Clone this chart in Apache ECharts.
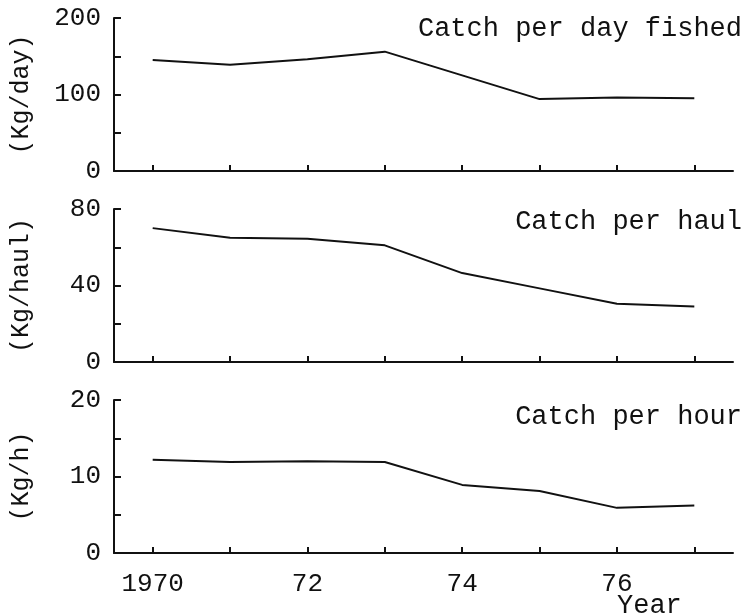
<!DOCTYPE html>
<html>
<head>
<meta charset="utf-8">
<script src="https://cdn.jsdelivr.net/npm/echarts@6/dist/echarts.min.js"></script>
<style>
  html, body { margin: 0; padding: 0; background: #fff; }
  #chart { width: 749px; height: 613px; }
</style>
</head>
<body>
<div id="chart"></div>
<script>
// years on the x axis
const years = ['1970', '1971', '1972', '1973', '1974', '1975', '1976', '1977']
const yearLabels = { '1970': '1970', '1972': '72', '1974': '74', '1976': '76' }

// catch per day fished (Kg/day)
const perDay = [145, 139, 146, 156, 125, 94, 96, 95]
// catch per haul (Kg/haul)
const perHaul = [70, 65, 64.5, 61, 46.5, 38.5, 30.5, 29]
// catch per hour (Kg/h)
const perHour = [12.2, 11.9, 12, 11.9, 8.9, 8.1, 5.9, 6.2]

const titles = ['Catch per day fished', 'Catch per haul', 'Catch per hour']
const units = ['(Kg/day)', '(Kg/haul)', '(Kg/h)']
const yMax = [200, 80, 20]
const yStep = [50, 20, 5]
const allSeries = [perDay, perHaul, perHour]

const font = '"Liberation Mono", "DejaVu Sans Mono", monospace'
const gridTops = [18, 209, 400]
const gridH = 153

const chart = echarts.init(document.getElementById('chart'))

const grid = [], xAxis = [], yAxis = [], series = [], graphic = []
for (let i = 0; i < 3; i++) {
  grid.push({ left: 114, right: 16, top: gridTops[i], height: gridH })
  xAxis.push({
    type: 'category',
    gridIndex: i,
    data: years,
    boundaryGap: true,
    axisLine: { lineStyle: { color: '#111', width: 2 } },
    axisTick: { show: true, inside: true, length: 6, alignWithLabel: true, lineStyle: { color: '#111', width: 2 } },
    axisLabel: {
      show: i === 2,
      interval: 0,
      margin: 18,
      color: '#111',
      fontFamily: font,
      fontSize: 26,
      formatter: (v) => yearLabels[v] || ''
    },
    splitLine: { show: false }
  })
  yAxis.push({
    type: 'value',
    gridIndex: i,
    min: 0,
    max: yMax[i],
    interval: yStep[i],
    name: units[i],
    nameLocation: 'middle',
    nameRotate: 90,
    nameGap: 80,
    nameTextStyle: { color: '#111', fontFamily: font, fontSize: 25 },
    axisLine: { show: true, lineStyle: { color: '#111', width: 2 } },
    axisTick: { show: true, inside: true, length: 7, lineStyle: { color: '#111', width: 2 } },
    axisLabel: {
      color: '#111',
      fontFamily: font,
      fontSize: 26,
      margin: 13,
      formatter: (v) => (v % (yStep[i] * 2) === 0 ? String(v) : '')
    },
    splitLine: { show: false }
  })
  series.push({
    type: 'line',
    xAxisIndex: i,
    yAxisIndex: i,
    data: allSeries[i],
    symbol: 'none',
    lineStyle: { color: '#111', width: 2 }
  })
  graphic.push({
    type: 'text',
    right: 7,
    top: [15, 208, 403][i],
    style: { text: titles[i], fill: '#111', font: '27px ' + font }
  })
}
graphic.push({
  type: 'text',
  left: 617,
  top: 592,
  style: { text: 'Year', fill: '#111', font: '27px ' + font }
})

chart.setOption({
  animation: false,
  backgroundColor: '#fff',
  grid: grid,
  xAxis: xAxis,
  yAxis: yAxis,
  series: series,
  graphic: graphic
})
</script>
</body>
</html>
